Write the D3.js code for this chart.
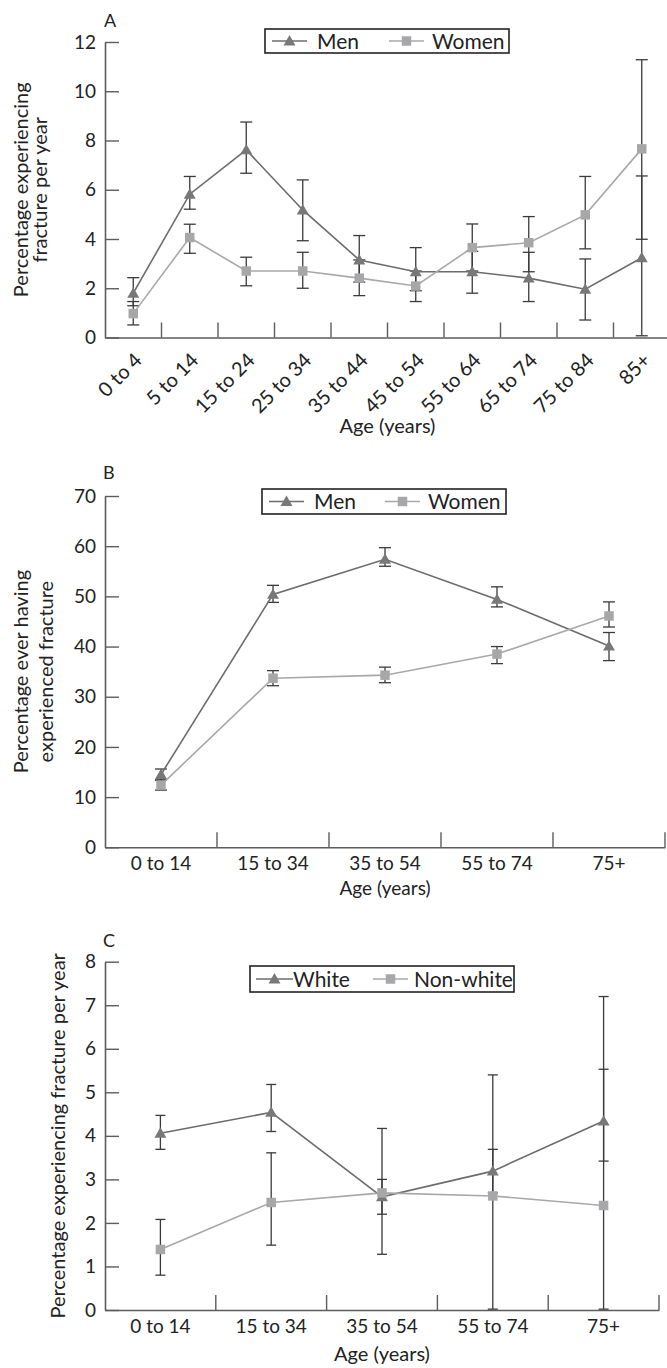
<!DOCTYPE html>
<html>
<head>
<meta charset="utf-8">
<script src="https://cdn.jsdelivr.net/npm/d3@7/dist/d3.min.js"></script>
<style>
  html, body { margin: 0; padding: 0; background: #fff; }
  svg { display: block; }
  text { font-family: Lato, "Open Sans", sans-serif; fill: #222; }
</style>
</head>
<body>
<svg id="chart" width="667" height="1368"></svg>
<script>
// ---------------- DATA ----------------
const categoriesA = ["0 to 4", "5 to 14", "15 to 24", "25 to 34", "35 to 44", "45 to 54", "55 to 64", "65 to 74", "75 to 84", "85+"];
const yTicksA = [0, 2, 4, 6, 8, 10, 12];
const menA      = [1.80, 5.82, 7.62, 5.18, 3.15, 2.67, 2.67, 2.41, 1.96, 3.24];
const menALow   = [1.29, 5.21, 6.67, 3.93, 2.25, 1.90, 1.80, 1.46, 0.71, 0.07];
const menAHigh  = [2.43, 6.54, 8.75, 6.40, 4.14, 3.65, 3.50, 3.46, 3.19, 6.56];
const womenA     = [0.97, 4.06, 2.70, 2.70, 2.41, 2.09, 3.65, 3.85, 4.98, 7.66];
const womenALow  = [0.51, 3.42, 2.10, 2.00, 1.70, 1.46, 2.70, 2.67, 3.60, 3.99];
const womenAHigh = [1.46, 4.60, 3.26, 3.46, 3.15, 2.70, 4.61, 4.91, 6.54, 11.28];

const categoriesB = ["0 to 14", "15 to 34", "35 to 54", "55 to 74", "75+"];
const yTicksB = [0, 10, 20, 30, 40, 50, 60, 70];
const menB      = [14.5, 50.4, 57.4, 49.4, 40.1];
const menBLow   = [13.4, 48.8, 56.0, 47.9, 37.2];
const menBHigh  = [15.6, 52.2, 59.7, 51.9, 42.8];
const womenB     = [12.4, 33.7, 34.3, 38.5, 46.1];
const womenBLow  = [11.4, 32.2, 32.8, 36.6, 43.9];
const womenBHigh = [13.4, 35.2, 35.9, 40.0, 48.9];

const categoriesC = ["0 to 14", "15 to 34", "35 to 54", "55 to 74", "75+"];
const yTicksC = [0, 1, 2, 3, 4, 5, 6, 7, 8];
const whiteC      = [4.06, 4.54, 2.60, 3.19, 4.34];
const whiteCLow   = [3.69, 4.10, 2.20, 2.69, 3.42];
const whiteCHigh  = [4.47, 5.18, 3.00, 3.69, 5.53];
const nonWhiteC     = [1.39, 2.47, 2.69, 2.62, 2.40];
const nonWhiteCLow  = [0.80, 1.49, 1.28, 0.02, 0.02];
const nonWhiteCHigh = [2.08, 3.61, 4.17, 5.40, 7.20];

// ---------------- STYLE ----------------
const C_DARK_LINE = "#6c6c6c", C_DARK_MARK = "#787878";
const C_LIGHT_LINE = "#a8a8a8", C_LIGHT_MARK = "#a7a7a9";
const C_ERR = "#3a3a3a", C_AXIS = "#5c5c5c";

const svg = d3.select("#chart");
const triangle = d3.symbol().type(d3.symbolTriangle).size(62);
const square = d3.symbol().type(d3.symbolSquare).size(90);

function panel(cfg) {
  const g = svg.append("g");
  const x = d3.scaleBand().domain(cfg.categories).range(cfg.xRange).padding(0);
  const y = d3.scaleLinear().domain(cfg.yDomain).range(cfg.yRange);
  const cx = c => x(c) + x.bandwidth() / 2;

  // y axis
  const ya = g.append("g").attr("transform", `translate(${cfg.xRange[0]},0)`)
    .call(d3.axisLeft(y).tickValues(cfg.yTicks).tickSizeInner(-14).tickSizeOuter(0).tickPadding(9));
  ya.select(".domain").attr("stroke", C_AXIS).attr("stroke-width", 1.6);
  ya.selectAll(".tick line").attr("stroke", C_AXIS).attr("stroke-width", 1.4);
  ya.selectAll(".tick text").attr("font-size", 19).attr("font-family", "Lato").attr("fill", "#222");

  // x axis
  const y0 = y(cfg.yDomain[0]);
  const xa = g.append("g").attr("transform", `translate(0,${y0})`)
    .call(d3.axisBottom(x).tickSize(0).tickSizeOuter(0).tickPadding(cfg.rotate ? 0 : 10));
  xa.select(".domain").attr("stroke", C_AXIS).attr("stroke-width", 1.6);
  xa.selectAll(".tick text").attr("font-size", cfg.rotate ? 20 : 19).attr("font-family", "Lato").attr("fill", "#222");
  if (cfg.rotate) {
    xa.selectAll(".tick text")
      .attr("text-anchor", "end").attr("dy", 0).attr("y", 0)
      .attr("transform", "translate(10,24) rotate(-45)");
  } else {
    xa.selectAll(".tick text").attr("dy", 0).attr("y", cfg.xLabelDy);
  }
  // boundary ticks pointing up
  g.append("g").selectAll("line").data(cfg.categories).join("line")
    .attr("x1", c => x(c) + x.bandwidth()).attr("x2", c => x(c) + x.bandwidth())
    .attr("y1", y0).attr("y2", y0 - 15)
    .attr("stroke", C_AXIS).attr("stroke-width", 1.4);

  // panel letter
  g.append("text").attr("x", cfg.letterPos[0]).attr("y", cfg.letterPos[1])
    .attr("font-size", 18).text(cfg.letter);

  // axis titles
  g.append("text").attr("x", (cfg.xRange[0] + cfg.xRange[1]) / 2).attr("y", cfg.xTitleY)
    .attr("text-anchor", "middle").attr("font-size", cfg.xTitleSize || 20).text("Age (years)");
  const ymid = (cfg.yRange[0] + cfg.yRange[1]) / 2;
  cfg.yTitle.forEach((t, i) => {
    g.append("text").attr("transform", `translate(${cfg.yTitleX[i]},${ymid}) rotate(-90)`)
      .attr("text-anchor", "middle").attr("font-size", 20).text(t);
  });

  const series = cfg.series;
  // error bars
  series.forEach(s => {
    const eg = g.append("g");
    const d = cfg.categories.map((c, i) => ({ c, lo: s.low[i], hi: s.high[i] }));
    eg.selectAll("line.v").data(d).join("line").attr("class", "v")
      .attr("x1", e => cx(e.c)).attr("x2", e => cx(e.c))
      .attr("y1", e => y(e.lo)).attr("y2", e => y(e.hi))
      .attr("stroke", C_ERR).attr("stroke-width", 1.3);
    ["lo", "hi"].forEach(k => {
      eg.selectAll("line." + k).data(d).join("line").attr("class", k)
        .attr("x1", e => cx(e.c) - cfg.cap).attr("x2", e => cx(e.c) + cfg.cap)
        .attr("y1", e => y(e[k])).attr("y2", e => y(e[k]))
        .attr("stroke", C_ERR).attr("stroke-width", 1.3);
    });
  });
  // lines
  series.forEach(s => {
    const pts = cfg.categories.map((c, i) => [cx(c), y(s.values[i])]);
    g.append("path").attr("d", d3.line()(pts)).attr("fill", "none")
      .attr("stroke", s.line).attr("stroke-width", 1.6);
  });
  // markers
  series.forEach(s => {
    g.append("g").selectAll("path").data(cfg.categories.map((c, i) => [cx(c), y(s.values[i])])).join("path")
      .attr("d", s.shape === "tri" ? triangle : square)
      .attr("transform", p => `translate(${p[0]},${p[1] + (s.shape === "tri" ? 1 : 0)})`)
      .attr("fill", s.mark);
  });

  // legend
  const L = cfg.legend;
  const lg = g.append("g");
  lg.append("rect").attr("x", L.box[0]).attr("y", L.box[1]).attr("width", L.box[2]).attr("height", L.box[3])
    .attr("fill", "#fff").attr("stroke", "#222").attr("stroke-width", 1.6);
  const ly = L.box[1] + L.box[3] / 2;
  L.items.forEach((it, i) => {
    const s = series[i];
    lg.append("line").attr("x1", it.line[0]).attr("x2", it.line[1]).attr("y1", ly).attr("y2", ly)
      .attr("stroke", s.line).attr("stroke-width", 1.6);
    lg.append("path").attr("d", s.shape === "tri" ? triangle : square)
      .attr("transform", `translate(${(it.line[0] + it.line[1]) / 2},${ly + (s.shape === "tri" ? 1 : 0)})`)
      .attr("fill", s.mark);
    lg.append("text").attr("x", it.text).attr("y", ly + 7.5).attr("font-size", 21).text(s.name);
  });
}

panel({
  categories: categoriesA, xRange: [105, 670], yDomain: [0, 12], yRange: [337.5, 42], yTicks: yTicksA,
  rotate: true, letter: "A", letterPos: [104, 27], xTitleY: 433, cap: 6,
  yTitle: ["Percentage experiencing", "fracture per year"], yTitleX: [28, 47],
  series: [
    { name: "Men", values: menA, low: menALow, high: menAHigh, line: C_DARK_LINE, mark: C_DARK_MARK, shape: "tri" },
    { name: "Women", values: womenA, low: womenALow, high: womenAHigh, line: C_LIGHT_LINE, mark: C_LIGHT_MARK, shape: "sq" }
  ],
  legend: { box: [265, 29, 244, 24], items: [{ line: [272, 307], text: 317 }, { line: [389, 424], text: 432 }] }
});

panel({
  categories: categoriesB, xRange: [105, 665], yDomain: [0, 70], yRange: [847.3, 496], yTicks: yTicksB,
  rotate: false, xLabelDy: 23, letter: "B", letterPos: [103, 479], xTitleY: 895, xTitleSize: 19, cap: 6,
  yTitle: ["Percentage ever having", "experienced fracture"], yTitleX: [28, 53],
  series: [
    { name: "Men", values: menB, low: menBLow, high: menBHigh, line: C_DARK_LINE, mark: C_DARK_MARK, shape: "tri" },
    { name: "Women", values: womenB, low: womenBLow, high: womenBHigh, line: C_LIGHT_LINE, mark: C_LIGHT_MARK, shape: "sq" }
  ],
  legend: { box: [262, 489, 244, 25], items: [{ line: [269, 304], text: 314 }, { line: [385, 420], text: 428 }] }
});

panel({
  categories: categoriesC, xRange: [105, 659], yDomain: [0, 8], yRange: [1310, 961.7], yTicks: yTicksC,
  rotate: false, xLabelDy: 23, letter: "C", letterPos: [103, 947], xTitleY: 1361, cap: 5,
  yTitle: ["Percentage experiencing fracture per year"], yTitleX: [65],
  series: [
    { name: "White", values: whiteC, low: whiteCLow, high: whiteCHigh, line: C_DARK_LINE, mark: C_DARK_MARK, shape: "tri" },
    { name: "Non-white", values: nonWhiteC, low: nonWhiteCLow, high: nonWhiteCHigh, line: C_LIGHT_LINE, mark: C_LIGHT_MARK, shape: "sq" }
  ],
  legend: { box: [250, 966, 264, 26], items: [{ line: [256, 293], text: 293 }, { line: [373, 408], text: 414 }] }
});
</script>
</body>
</html>
